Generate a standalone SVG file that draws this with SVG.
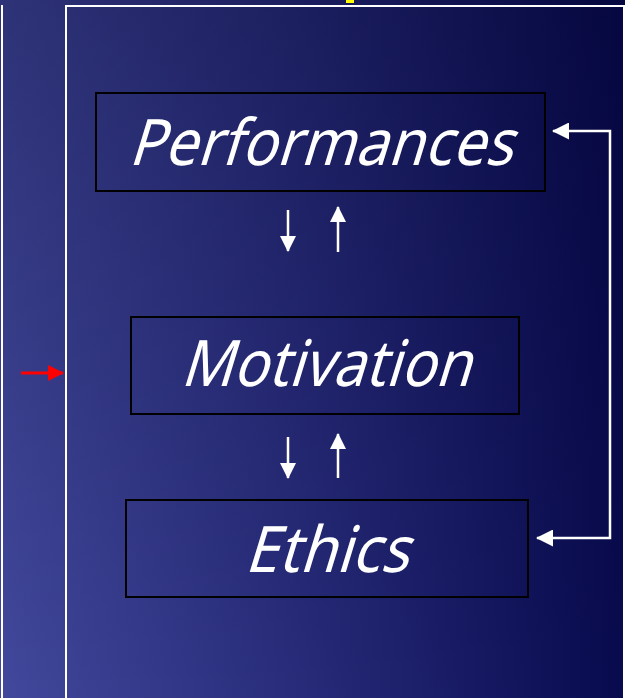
<svg xmlns="http://www.w3.org/2000/svg" width="625" height="698" viewBox="0 0 625 698">
<defs>
<linearGradient id="bg" x1="0" y1="0" x2="625" y2="0" gradientUnits="userSpaceOnUse">
<stop offset="0" stop-color="#42489c"/>
<stop offset="0.5" stop-color="#262a78"/>
<stop offset="1" stop-color="#080a4e"/>
</linearGradient>
<linearGradient id="shade" x1="0" y1="0" x2="0" y2="698" gradientUnits="userSpaceOnUse">
<stop offset="0" stop-color="#000020" stop-opacity="0.3"/>
<stop offset="1" stop-color="#000020" stop-opacity="0"/>
</linearGradient>
<marker id="wh" markerUnits="userSpaceOnUse" markerWidth="17" markerHeight="17" refX="16" refY="8.5" orient="auto-start-reverse" viewBox="0 0 17 17">
<path d="M0,0 L17,8.5 L0,17 Z" fill="#ffffff"/>
</marker>
<marker id="wsm" markerUnits="userSpaceOnUse" markerWidth="16" markerHeight="16" refX="15" refY="8" orient="auto" viewBox="0 0 16 16">
<path d="M0,0 L16,8 L0,16 Z" fill="#ffffff"/>
</marker>
<marker id="rd" markerUnits="userSpaceOnUse" markerWidth="16" markerHeight="16" refX="15" refY="8" orient="auto" viewBox="0 0 16 16">
<path d="M0,0 L16,8 L0,16 Z" fill="#ff0000"/>
</marker>
</defs>
<style>
.box{fill:none;stroke:#000000;stroke-width:2}
.lbl{font-family:"Noto Sans","Open Sans",sans-serif;font-size:64px;fill:#ffffff}
.frame{stroke:#ffffff;stroke-width:2;fill:none}
.wl{stroke:#ffffff;stroke-width:2.5;fill:none}
</style>
<rect x="0" y="0" width="625" height="698" fill="url(#bg)"/>
<rect x="0" y="0" width="625" height="698" fill="url(#shade)"/>
<rect x="346" y="0" width="8" height="3" fill="#ffff00"/>
<g id="frame">
<line class="frame" x1="2" y1="5" x2="2" y2="698" stroke="#e8e8ff"/>
<path class="frame" d="M66,698 V6 H624 V698"/>
</g>
<g id="performances">
<rect class="box" x="96" y="93" width="449" height="98"/>
<text class="lbl" transform="translate(128,165) skewX(-17)" x="0" y="0" textLength="384" lengthAdjust="spacingAndGlyphs">Performances</text>
</g>
<g id="motivation">
<rect class="box" x="131" y="317" width="388" height="97"/>
<text class="lbl" transform="translate(180,386) skewX(-17)" x="0" y="0" textLength="290" lengthAdjust="spacingAndGlyphs">Motivation</text>
</g>
<g id="ethics">
<rect class="box" x="126" y="500" width="402" height="97"/>
<text class="lbl" transform="translate(244,572) skewX(-17)" x="0" y="0" textLength="164" lengthAdjust="spacingAndGlyphs">Ethics</text>
</g>
<g id="connectors">
<line class="wl" x1="288" y1="210" x2="288" y2="251" marker-end="url(#wsm)"/>
<line class="wl" x1="338" y1="252" x2="338" y2="207" marker-end="url(#wsm)"/>
<line class="wl" x1="288" y1="437" x2="288" y2="478" marker-end="url(#wsm)"/>
<line class="wl" x1="338" y1="478" x2="338" y2="434" marker-end="url(#wsm)"/>
<path class="wl" d="M553,131 H610 V538 H537" marker-start="url(#wh)" marker-end="url(#wh)"/>
<line x1="21" y1="373" x2="63" y2="373" stroke="#ff0000" stroke-width="3" marker-end="url(#rd)"/>
</g>
</svg>
